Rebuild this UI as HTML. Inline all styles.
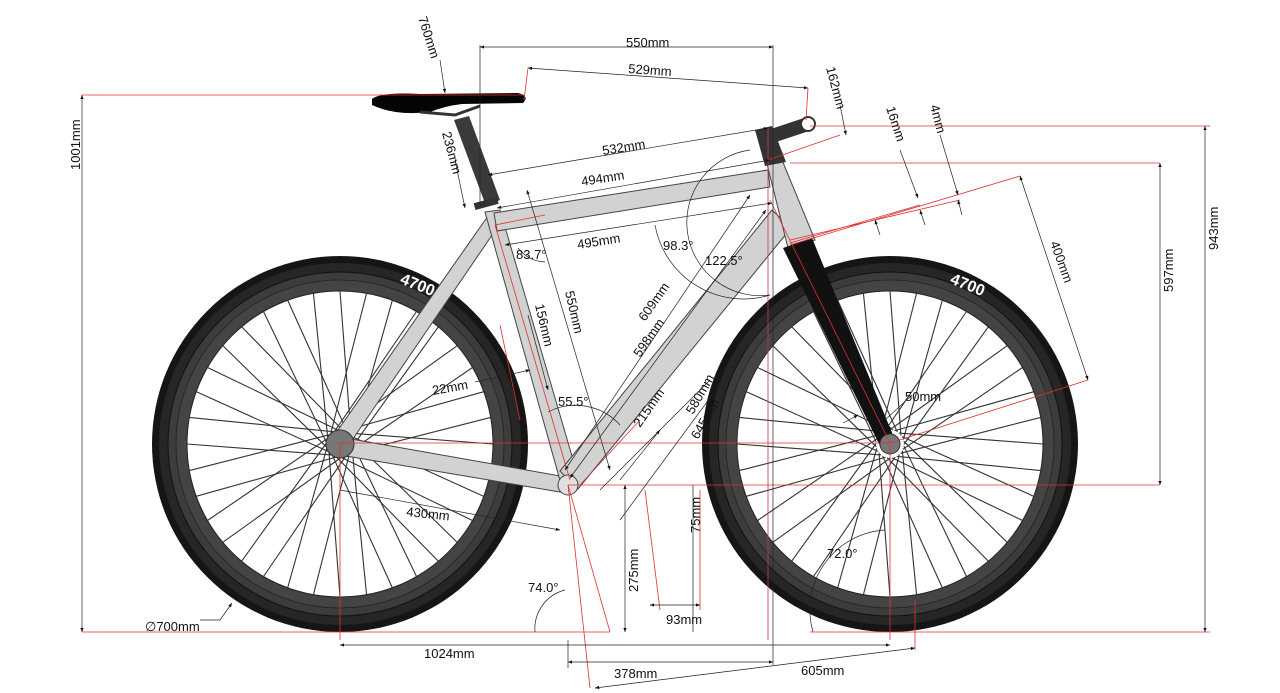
<!DOCTYPE html>
<html><head><meta charset="utf-8"><style>
html,body{margin:0;padding:0;background:#fff;width:1280px;height:693px;overflow:hidden}
svg text{font-family:"Liberation Sans",sans-serif;font-size:13px;fill:#111}
</style></head><body>
<svg id="s" width="1280" height="693" viewBox="0 0 1280 693" xmlns="http://www.w3.org/2000/svg">
<defs>
<marker id="a" viewBox="0 0 10 10" refX="10" refY="5" markerWidth="6" markerHeight="6" orient="auto-start-reverse"><path d="M0,1 L10,5 L0,9z" fill="#111"/></marker>
</defs>
<g id="wheels"></g>
<!-- frame -->
<g stroke="#444" stroke-width="1" fill="#d2d2d2">
<polygon points="488,216 501,222 346,449 331,440"/>
<polygon points="340,437 566,477 566,493 340,455"/>
<polygon points="485,212 500,210 579,480 561,484"/>
<polygon points="494,213 768,170 770,187 497,231"/>
<polygon points="560,471 772,210 791,228 578,489"/>
<polygon points="766,160 782,160 815,240 788,248"/>
<circle cx="568" cy="485" r="10" fill="#e0e0e0"/>
</g>
<polygon points="783,248 812,238 895,440 880,446" fill="#111"/>
<polygon points="755,130 772,126 786,162 765,166" fill="#333"/>
<line x1="772" y1="136" x2="808" y2="124" stroke="#333" stroke-width="14" stroke-linecap="round"/>
<circle cx="808" cy="124" r="7" fill="#fff" stroke="#333" stroke-width="2"/>
<polygon points="454,120 469,116 500,200 486,206" fill="#3a3a3a"/>
<rect x="474" y="200" width="24" height="7" fill="#333" transform="rotate(-15 486 203)"/>
<path d="M372,99 Q380,92 420,94 L518,93 Q530,96 523,103 L462,104 Q445,106 430,112 Q395,116 372,105 Z" fill="#050505"/>
<path d="M420,112 L455,115 L480,106" stroke="#333" stroke-width="3" fill="none"/>
<circle cx="340" cy="444" r="14" fill="#777" stroke="#333"/>
<circle cx="890" cy="444" r="10" fill="#777" stroke="#333"/>
<!-- red reference lines -->
<g stroke="#e03030" stroke-width="0.8" fill="none">
<line x1="82" y1="95" x2="525" y2="95"/>
<line x1="82" y1="632" x2="610" y2="632"/>
<line x1="810" y1="632" x2="1210" y2="632"/>
<line x1="810" y1="126" x2="1210" y2="126"/>
<line x1="790" y1="163" x2="1160" y2="163"/>
<line x1="568" y1="485" x2="1160" y2="485"/>
<line x1="340" y1="443" x2="890" y2="443"/>
<line x1="340" y1="443" x2="340" y2="640"/>
<line x1="890" y1="443" x2="890" y2="640"/>
<line x1="915" y1="600" x2="915" y2="650"/>
<line x1="768" y1="128" x2="768" y2="640"/>
<line x1="568" y1="485" x2="590" y2="688"/>
<line x1="568" y1="485" x2="610" y2="632"/>
<line x1="790" y1="245" x2="1020" y2="176"/>
<line x1="790" y1="243" x2="920" y2="205"/>
<line x1="790" y1="240" x2="960" y2="200"/>
<line x1="890" y1="443" x2="1088" y2="380"/>
<line x1="770" y1="200" x2="890" y2="443"/>
<line x1="495" y1="225" x2="545" y2="215"/>
<line x1="495" y1="225" x2="570" y2="480"/>
<line x1="580" y1="485" x2="640" y2="420"/>
<line x1="768" y1="160" x2="840" y2="135"/>
<line x1="528" y1="68" x2="524" y2="100"/>
<line x1="808" y1="88" x2="806" y2="120"/>
<line x1="500" y1="325" x2="520" y2="420"/>
<line x1="645" y1="490" x2="660" y2="610"/>
<line x1="700" y1="490" x2="700" y2="610"/>
</g>
<!-- dimension lines -->
<g stroke="#222" stroke-width="0.7" fill="none">
<line x1="82" y1="95" x2="82" y2="632" marker-start="url(#a)" marker-end="url(#a)"/>
<line x1="1205" y1="126" x2="1205" y2="632" marker-start="url(#a)" marker-end="url(#a)"/>
<line x1="1160" y1="163" x2="1160" y2="485" marker-start="url(#a)" marker-end="url(#a)"/>
<line x1="480" y1="47" x2="773" y2="47" marker-start="url(#a)" marker-end="url(#a)"/>
<line x1="480" y1="45" x2="480" y2="205"/>
<line x1="773" y1="45" x2="773" y2="665"/>
<line x1="528" y1="68" x2="808" y2="88" marker-start="url(#a)" marker-end="url(#a)"/>
<line x1="340" y1="645" x2="890" y2="645" marker-start="url(#a)" marker-end="url(#a)"/>
<line x1="568" y1="662" x2="773" y2="662" marker-start="url(#a)" marker-end="url(#a)"/>
<line x1="568" y1="640" x2="568" y2="668"/>
<line x1="595" y1="688" x2="915" y2="648" marker-start="url(#a)" marker-end="url(#a)"/>
<line x1="488" y1="175" x2="768" y2="128" marker-start="url(#a)" marker-end="url(#a)"/>
<line x1="497" y1="208" x2="770" y2="160" marker-start="url(#a)" marker-end="url(#a)"/>
<line x1="505" y1="245" x2="772" y2="203" marker-start="url(#a)" marker-end="url(#a)"/>
<line x1="527" y1="190" x2="610" y2="470" marker-start="url(#a)" marker-end="url(#a)"/>
<line x1="565" y1="470" x2="750" y2="195" marker-start="url(#a)" marker-end="url(#a)"/>
<line x1="570" y1="478" x2="766" y2="210" marker-start="url(#a)" marker-end="url(#a)"/>
<line x1="620" y1="520" x2="760" y2="330"/>
<line x1="600" y1="490" x2="710" y2="380"/>
<line x1="620" y1="480" x2="660" y2="430" marker-end="url(#a)"/>
<line x1="1020" y1="176" x2="1088" y2="380" marker-start="url(#a)" marker-end="url(#a)"/>
<line x1="440" y1="60" x2="445" y2="93" marker-end="url(#a)"/>
<line x1="455" y1="160" x2="465" y2="208" marker-end="url(#a)"/>
<line x1="840" y1="105" x2="846" y2="135" marker-end="url(#a)"/>
<line x1="900" y1="150" x2="918" y2="198" marker-end="url(#a)"/>
<line x1="940" y1="135" x2="958" y2="195" marker-end="url(#a)"/>
<line x1="880" y1="235" x2="875" y2="220" marker-end="url(#a)"/>
<line x1="925" y1="225" x2="920" y2="210" marker-end="url(#a)"/>
<line x1="962" y1="215" x2="958" y2="200" marker-end="url(#a)"/>
<line x1="528" y1="315" x2="548" y2="390" marker-end="url(#a)"/>
<line x1="475" y1="382" x2="530" y2="370" marker-end="url(#a)"/>
<line x1="340" y1="490" x2="560" y2="530" marker-end="url(#a)"/>
<line x1="625" y1="485" x2="625" y2="632" marker-start="url(#a)" marker-end="url(#a)"/>
<line x1="693" y1="485" x2="693" y2="632"/>
<line x1="650" y1="605" x2="700" y2="605" marker-start="url(#a)" marker-end="url(#a)"/>
<line x1="885" y1="420" x2="912" y2="395" />
<line x1="843" y1="423" x2="858" y2="415" marker-end="url(#a)"/>
<path d="M232,603 L220,620 L200,620" marker-start="url(#a)"/>
<path d="M518,248 A35,35 0 0 0 545,262"/>
<path d="M655,225 A90,90 0 0 0 770,295"/>
<path d="M750,150 A70,70 0 0 0 770,295"/>
<path d="M548,412 A60,60 0 0 1 620,425"/>
<path d="M535,632 A40,40 0 0 1 565,590"/>
<path d="M813,632 A80,80 0 0 1 885,530"/>
</g>
<!-- labels -->
<g>
<text x="0" y="0" transform="translate(418,18) rotate(72)">760mm</text>
<text x="626" y="47">550mm</text>
<text x="0" y="0" transform="translate(628,73) rotate(4)">529mm</text>
<text x="0" y="0" transform="translate(826,68) rotate(75)">162mm</text>
<text x="0" y="0" transform="translate(80,170) rotate(-90)">1001mm</text>
<text x="0" y="0" transform="translate(442,133) rotate(75)">236mm</text>
<text x="0" y="0" transform="translate(603,155) rotate(-9)">532mm</text>
<text x="0" y="0" transform="translate(582,186) rotate(-9)">494mm</text>
<text x="0" y="0" transform="translate(578,249) rotate(-9)">495mm</text>
<text x="0" y="0" transform="translate(886,108) rotate(72)">16mm</text>
<text x="0" y="0" transform="translate(930,106) rotate(75)">4mm</text>
<text x="516" y="259">83.7°</text>
<text x="663" y="250">98.3°</text>
<text x="705" y="265">122.5°</text>
<text x="0" y="0" transform="translate(1050,243) rotate(70)">400mm</text>
<text x="0" y="0" transform="translate(1173,292) rotate(-90)">597mm</text>
<text x="0" y="0" transform="translate(1218,250) rotate(-90)">943mm</text>
<text x="0" y="0" transform="translate(565,292) rotate(77)">550mm</text>
<text x="0" y="0" transform="translate(645,322) rotate(-55)">609mm</text>
<text x="0" y="0" transform="translate(640,358) rotate(-55)">598mm</text>
<text x="0" y="0" transform="translate(535,305) rotate(77)">156mm</text>
<text x="0" y="0" transform="translate(433,395) rotate(-10)">22mm</text>
<text x="558" y="406">55.5°</text>
<text x="0" y="0" transform="translate(640,428) rotate(-55)">215mm</text>
<text x="0" y="0" transform="translate(693,415) rotate(-60)">580mm</text>
<text x="0" y="0" transform="translate(698,440) rotate(-60)">645mm</text>
<text x="905" y="401">50mm</text>
<text x="0" y="0" transform="translate(406,516) rotate(6)">430mm</text>
<text x="0" y="0" transform="translate(638,592) rotate(-90)">275mm</text>
<text x="0" y="0" transform="translate(700,533) rotate(-90)">75mm</text>
<text x="528" y="592">74.0°</text>
<text x="827" y="558">72.0°</text>
<text x="666" y="624">93mm</text>
<text x="145" y="631">∅700mm</text>
<text x="424" y="658">1024mm</text>
<text x="614" y="678">378mm</text>
<text x="801" y="675">605mm</text>
</g>
</svg>
<script>
var g=document.getElementById('wheels'),ns='http://www.w3.org/2000/svg';
function el(t,a){var e=document.createElementNS(ns,t);for(var k in a)e.setAttribute(k,a[k]);g.appendChild(e);return e;}
[[340,444],[890,444]].forEach(function(c){
 var x=c[0],y=c[1];
 el('circle',{cx:x,cy:y,r:188,fill:'#151515'});
 el('circle',{cx:x,cy:y,r:181,fill:'#262626'});
 el('circle',{cx:x,cy:y,r:172,fill:'#3c3c3c',stroke:'#111','stroke-width':1});
 el('circle',{cx:x,cy:y,r:164,fill:'#444',stroke:'#222','stroke-width':0.8});
 el('circle',{cx:x,cy:y,r:153,fill:'#fff',stroke:'#222','stroke-width':1});
 for(var i=0;i<36;i++){
  var a=i*Math.PI*2/36, s=(i%2?1:-1)*0.9;
  var hx=x+14*Math.cos(a+s), hy=y+14*Math.sin(a+s);
  el('line',{x1:hx,y1:hy,x2:x+153*Math.cos(a),y2:y+153*Math.sin(a),stroke:'#333','stroke-width':1.1});
 }
 var t=el('text',{x:x+60,y:y-155,transform:'rotate(22 '+(x+75)+' '+(y-160)+')',style:'fill:#fff;font-weight:bold;font-size:16px'});
 t.textContent='4700';
});
</script>
</body></html>
